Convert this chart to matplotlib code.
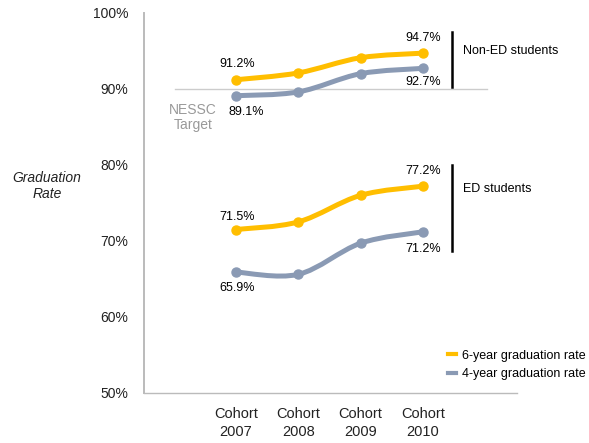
import matplotlib
matplotlib.use("Agg")
import matplotlib.pyplot as plt
from matplotlib.path import Path
from matplotlib.patches import PathPatch
from matplotlib.lines import Line2D
import numpy as np

plt.rcParams['font.family'] = ['Liberation Sans', 'DejaVu Sans']

cohorts = ['Cohort\n2007', 'Cohort\n2008', 'Cohort\n2009', 'Cohort\n2010']
non_ed_6yr = [91.2, 92.1, 94.1, 94.7]
non_ed_4yr = [89.1, 89.6, 92.0, 92.7]
ed_6yr = [71.5, 72.5, 76.0, 77.2]
ed_4yr = [65.9, 65.6, 69.7, 71.2]
target = 90
yticks = [50, 60, 70, 80, 90, 100]

YELLOW = '#FFBE00'
GRAY = '#8A9AB4'


def smooth_path(xs, ys):
    """Catmull-Rom curve through the points as cubic bezier segments."""
    pts = np.column_stack([xs, ys]).astype(float)
    ext = np.vstack([pts[0], pts, pts[-1]])
    verts = [pts[0]]
    codes = [Path.MOVETO]
    for i in range(1, len(ext) - 2):
        p0, p1, p2, p3 = ext[i - 1], ext[i], ext[i + 1], ext[i + 2]
        verts += [p1 + (p2 - p0) / 6, p2 - (p3 - p1) / 6, p2]
        codes += [Path.CURVE4] * 3
    return Path(verts, codes)


def draw_series(ax, values, color):
    x = np.arange(len(values))
    ax.add_patch(PathPatch(smooth_path(x, values), fill=False, edgecolor=color,
                           lw=3.6, capstyle='round', zorder=3))
    ax.plot(x, values, 'o', color=color, ms=6.5, zorder=4)


fig = plt.figure(figsize=(5.89, 4.43), dpi=100)
ax = fig.add_axes([0.244, 0.113, 0.634, 0.858])
ax.set_xlim(-1.48, 4.51)
ax.set_ylim(50, 100)

for s in ['top', 'right']:
    ax.spines[s].set_visible(False)
ax.spines['left'].set_color('#BBBBBB')
ax.spines['left'].set_linewidth(1.4)
ax.spines['bottom'].set_color('#BBBBBB')
ax.spines['bottom'].set_linewidth(1.0)

ax.set_yticks(yticks)
ax.set_yticklabels([f'{v}%' for v in yticks])
ax.set_xticks(range(len(cohorts)))
ax.set_xticklabels(cohorts, linespacing=1.35)
ax.tick_params(axis='y', length=0, pad=11, labelsize=10, labelcolor='#222222')
ax.tick_params(axis='x', length=0, pad=10, labelsize=10.5, labelcolor='#222222')

# target line
ax.plot([-0.98, 4.03], [target, target], color='#CCCCCC', lw=1, zorder=1)
ax.text(-0.69, 88.2, 'NESSC\nTarget', ha='center', va='top', fontsize=10,
        color='#999999', linespacing=1.1)

draw_series(ax, non_ed_6yr, YELLOW)
draw_series(ax, non_ed_4yr, GRAY)
draw_series(ax, ed_6yr, YELLOW)
draw_series(ax, ed_4yr, GRAY)

# value labels: (series, index, x offset px, y offset px)
labels = [
    (non_ed_6yr, 0, 1, 16), (non_ed_6yr, 3, 0, 15),
    (non_ed_4yr, 0, 10, -16), (non_ed_4yr, 3, 0, -14),
    (ed_6yr, 0, 1, 13), (ed_6yr, 3, 0, 15),
    (ed_4yr, 0, 1, -16), (ed_4yr, 3, 0, -17),
]
for series, i, dx, dy in labels:
    ax.annotate(f'{series[i]}%', (i, series[i]), xytext=(dx, dy),
                textcoords='offset pixels', ha='center', va='center',
                fontsize=9, color='#000000')

# group brackets
ax.plot([3.465, 3.465], [97.5, 90.3], color='black', lw=1.8, clip_on=False)
ax.plot([3.465, 3.465], [80.0, 68.7], color='black', lw=1.8, clip_on=False)
ax.text(3.64, 95.0, 'Non-ED students', ha='left', va='center', fontsize=9,
        color='#000000')
ax.text(3.64, 76.8, 'ED students', ha='left', va='center', fontsize=9,
        color='#000000')

fig.text(47 / 589, 1 - 186 / 443, 'Graduation\nRate', ha='center', va='center',
         fontsize=10, style='italic', color='#222222', linespacing=1.2)

handles = [Line2D([], [], color=YELLOW, lw=3),
           Line2D([], [], color=GRAY, lw=3)]
fig.legend(handles, ['6-year graduation rate', '4-year graduation rate'],
           loc='center left', bbox_to_anchor=(448 / 589, 1 - 365 / 443),
           frameon=False, fontsize=9, handlelength=0.6, handletextpad=0.55,
           borderpad=0, borderaxespad=0, labelspacing=0.55)

fig.savefig('out.png', dpi=100)
